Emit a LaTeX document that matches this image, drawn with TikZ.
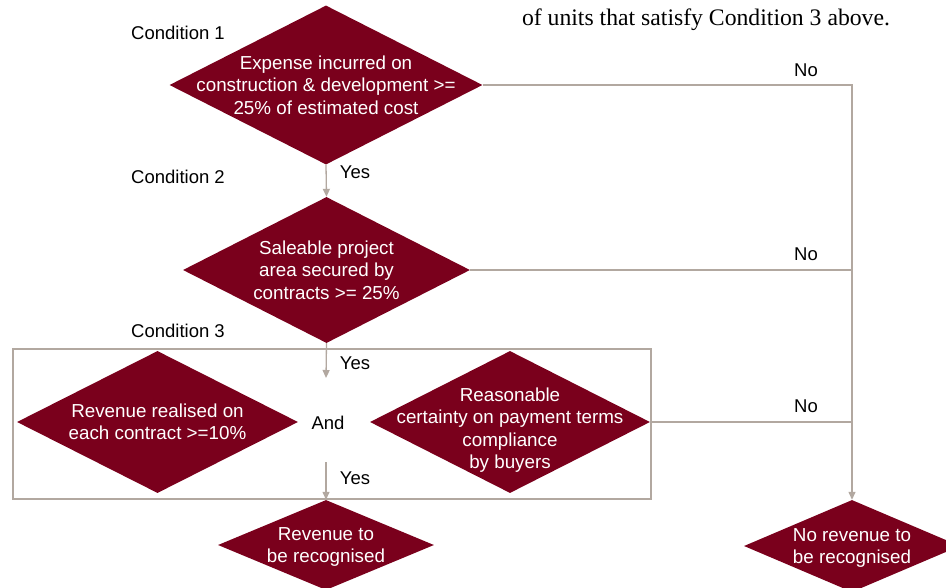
\documentclass[tikz,border=0pt]{standalone}
\usepackage{fontspec}
\setmainfont{Liberation Sans}
\newfontfamily\notefont{Liberation Serif}
\usetikzlibrary{shapes.geometric,arrows.meta}
\definecolor{wine}{RGB}{122,0,28}
\definecolor{flow}{RGB}{178,168,160}

\begin{document}
\begin{tikzpicture}[x=1pt,y=-1pt]
    \tikzset{
        cond/.style={fill=wine, diamond, inner sep=0pt},
        ctext/.style={text=white, align=center, font=\fontsize{18.8}{22.5}\selectfont},
        lbl/.style={font=\fontsize{18.5}{22.5}\selectfont},
        flowline/.style={draw=flow, line width=1.3pt},
        arr/.style={flowline, -{Triangle[length=8pt,width=7pt]}},
        frame/.style={draw=flow, line width=1.2pt, inner sep=0pt}
    }
    \path[use as bounding box, clip] (0,0) rectangle (946,587);

    \draw node[font=\notefont\fontsize{23.7}{28}\selectfont, anchor=base] (note) at (706,25) {of units that satisfy Condition 3 above.};

    \draw node[frame, minimum width=638, minimum height=150] (box3) at (332,424) {};

    \draw node[cond, minimum width=313, minimum height=159] (expense) at (326,85) {};
    \draw node[cond, minimum width=287, minimum height=146] (sale) at (326.5,270) {};
    \draw node[cond, minimum width=281, minimum height=142] (realised) at (157.5,422) {};
    \draw node[cond, minimum width=280, minimum height=142] (pay) at (510,422) {};
    \draw node[cond, minimum width=216, minimum height=90] (rev) at (326,545) {};
    \draw node[cond, minimum width=216, minimum height=92] (norev) at (852,546) {};

    \draw node[ctext] (expenset) at (expense) {Expense incurred on\\construction \& development >=\\25\% of estimated cost};
    \draw node[ctext] (salet) at (sale) {Saleable project\\area secured by\\contracts >= 25\%};
    \draw node[ctext] (realisedt) at (realised) {Revenue realised on\\each contract >=10\%};
    \draw node[ctext] (payt) at (510,430) {Reasonable\\certainty on payment terms\\compliance\\by buyers};
    \draw node[ctext] (revt) at (326,547) {Revenue to\\be recognised};
    \draw node[ctext] (norevt) at (852,548) {No revenue to\\be recognised};

    \draw node[lbl] (cond1) at (178,33) {Condition 1};
    \draw node[lbl] (cond2) at (178,177) {Condition 2};
    \draw node[lbl] (cond3) at (178,331) {Condition 3};
    \draw node[lbl] (and) at (328,423) {And};

    \coordinate (in3) at (326,378);
    \coordinate (out3) at (326,462);

    \foreach \x/\y in {%
        expense.south/sale.north, sale.south/in3, out3/rev.north%
    }{
    \draw[arr] (\x) -- (\y);
    }
    \draw[arr] (expense.east) -| (norev.north);
    \draw[flowline] (sale.east) -- (sale.east -| norev);
    \draw[flowline] (pay.east) -- (pay.east -| norev);

    \draw node[lbl] (yes1) at (355,172) {Yes};
    \draw node[lbl] (yes2) at (355,363) {Yes};
    \draw node[lbl] (yes3) at (355,478) {Yes};
    \draw node[lbl] (no1) at (806,70) {No};
    \draw node[lbl] (no2) at (806,254) {No};
    \draw node[lbl] (no3) at (806,406) {No};
\end{tikzpicture}
\end{document}
